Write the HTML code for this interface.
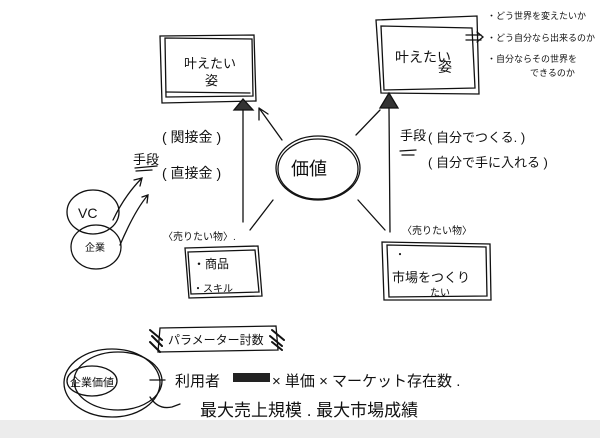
<!DOCTYPE html>
<html><head><meta charset="utf-8"><style>
html,body{margin:0;padding:0;background:#fff;}
svg{display:block;}
text{font-family:"Liberation Sans","Noto Sans CJK JP",sans-serif;fill:#111;}
</style></head><body>
<svg width="600" height="438" viewBox="0 0 600 438" xmlns="http://www.w3.org/2000/svg">
<rect x="0" y="0" width="600" height="438" fill="#fff"/>
<rect x="0" y="420" width="600" height="18" fill="#ececec"/>
<g fill="none" stroke="#111" stroke-width="1.3" stroke-linecap="round">
<path d="M160 36 L254 35 L256 101 L162 103 Z"/>
<path d="M165 38 L252 39 L253 96 L166 97 Z"/>
<path d="M166 92 L250 93"/>
<path d="M376 20 L477 16 L479 94 L381 93 Z"/>
<path d="M381 26 L472 28 L475 88 L384 90 Z"/>
<path d="M466 35 L481 35 M466 40 L481 40 M477 32 L483 37 L477 42"/>
<polygon points="243,99 234,110 253,110" fill="#333"/>
<line x1="243" y1="110" x2="243" y2="222"/>
<path d="M282 140 L259 108 M259 108 L259 120 M259 108 L268 114"/>
<polygon points="389,93 380,108 398,108" fill="#333"/>
<line x1="389" y1="108" x2="390" y2="232"/>
<line x1="356" y1="135" x2="380" y2="110"/>
<line x1="273" y1="200" x2="250" y2="230"/>
<line x1="358" y1="200" x2="385" y2="230"/>
<ellipse cx="318" cy="168" rx="42" ry="32"/>
<ellipse cx="318" cy="169" rx="40" ry="30"/>
<ellipse cx="93" cy="212" rx="26" ry="22"/>
<ellipse cx="96" cy="247" rx="25" ry="22"/>
<path d="M113 220 Q125 195 142 178 M134 180 L142 178 L140 186"/>
<path d="M120 245 Q135 210 148 195 M142 197 L148 195 L147 203"/>
<line x1="135" y1="168" x2="157" y2="166"/><line x1="136" y1="171" x2="152" y2="170"/>
<line x1="400" y1="151" x2="416" y2="150"/><line x1="402" y1="155" x2="414" y2="155"/>
<path d="M185 248 L258 246 L262 296 L189 298 Z"/>
<path d="M188 252 L255 250 L259 292 L191 294 Z"/>
<path d="M382 242 L490 244 L491 300 L384 300 Z"/>
<path d="M387 245 L486 247 L487 296 L389 297 Z"/>
<path d="M160 328 L276 326 L278 350 L158 352 Z"/>
<path d="M150 330 L162 340 M152 336 L162 346 M150 342 L160 352 M272 330 L284 340 M270 336 L282 346 M272 342 L282 350" stroke-width="2"/>
<ellipse cx="118" cy="381" rx="44" ry="29"/>
<ellipse cx="112" cy="383" rx="48" ry="34"/>
<ellipse cx="92" cy="381" rx="25" ry="15"/>
<path d="M150 397 Q158 410 172 407 L180 404"/>
<line x1="150" y1="380" x2="165" y2="380"/>
<rect x="233" y="373" width="37" height="9" fill="#222" stroke="none"/>
</g>
<g font-size="13">
<text x="184" y="68">叶えたい</text>
<text x="205" y="85">姿</text>
<text x="395" y="62" font-size="14">叶えたい</text>
<text x="438" y="72" font-size="14">姿</text>
<text x="487" y="19" font-size="9">・どう世界を変えたいか</text>
<text x="487" y="41" font-size="9">・どう自分なら出来るのか</text>
<text x="487" y="62" font-size="9">・自分ならその世界を</text>
<text x="530" y="76" font-size="9">できるのか</text>
<text x="291" y="175" font-size="18">価値</text>
<text x="133" y="164" font-size="13">手段</text>
<text x="162" y="142" font-size="14">( 関接金 )</text>
<text x="162" y="178" font-size="14">( 直接金 )</text>
<text x="78" y="218" font-size="14">VC</text>
<text x="85" y="251" font-size="10">企業</text>
<text x="163" y="240" font-size="10">〈売りたい物〉.</text>
<text x="193" y="268" font-size="12">・商品</text>
<text x="193" y="292" font-size="10">・スキル</text>
<text x="400" y="140" font-size="13">手段</text>
<text x="428" y="142" font-size="13">( 自分でつくる. )</text>
<text x="428" y="167" font-size="13">( 自分で手に入れる )</text>
<text x="402" y="234" font-size="10">〈売りたい物〉</text>
<text x="395" y="258" font-size="10">・</text>
<text x="392" y="282" font-size="13">市場をつくり</text>
<text x="430" y="296" font-size="10">たい</text>
<text x="168" y="344" font-size="12">パラメーター討数</text>
<text x="70" y="386" font-size="11">企業価値</text>
<text x="175" y="386" font-size="15">利用者</text>
<text x="272" y="386" font-size="15">× 単価 × マーケット存在数 .</text>
<text x="200" y="416" font-size="17">最大売上規模 . 最大市場成績</text>
</g>
</svg>
</body></html>
